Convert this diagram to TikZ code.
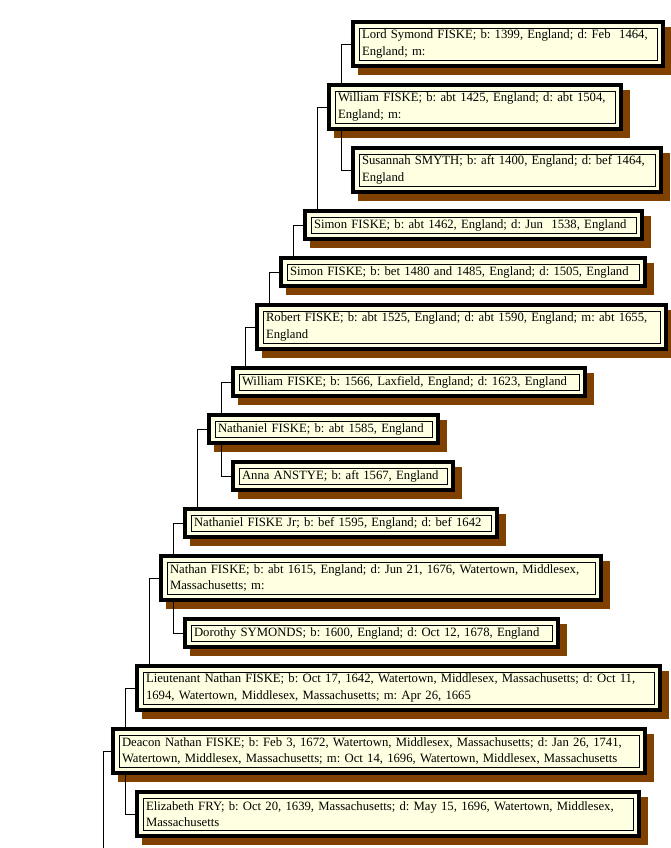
\documentclass[tikz,border=0pt]{standalone}
\usepackage{fontspec}
\setmainfont{Liberation Serif}
\frenchspacing
\usetikzlibrary{positioning,shadows}
\definecolor{cream}{HTML}{FFFFE1}
\definecolor{bark}{HTML}{804000}

\begin{document}
\begin{tikzpicture}[x=1pt,y=1pt,font=\fontsize{12.7}{16.5}\selectfont]
	\tikzset{PersonStyle/.style={draw, line width=4pt, fill=cream, anchor=north west,
			align=left, inner xsep=9pt, inner ysep=2pt, minimum height=28pt,
			drop shadow={shadow xshift=7pt, shadow yshift=-7pt, fill=bark, draw=bark,
				line width=4pt, opacity=1},
			path picture={\draw[line width=.8pt]
				([shift={(6pt,-6pt)}]path picture bounding box.north west) rectangle
				([shift={(-6pt,6pt)}]path picture bounding box.south east);}},
		TwoLines/.style={minimum height=44pt},
		LinkStyle/.style={line width=.8pt}}
	\useasboundingbox (0,0) rectangle (671,-848);
	\node[PersonStyle, TwoLines, text width=292pt] (lord) at (351,-20)
		{Lord Symond FISKE; b: 1399, England; d: Feb\ \ 1464,\\England; m:};
	\node[PersonStyle, TwoLines, text width=274pt, below right=15pt and -24pt of lord.south west] (william)
		{William FISKE; b: abt 1425, England; d: abt 1504,\\England; m:};
	\node[PersonStyle, TwoLines, text width=290pt, below right=15pt and 24pt of william.south west] (susannah)
		{Susannah SMYTH; b: aft 1400, England; d: bef 1464,\\England};
	\node[PersonStyle, text width=319pt, below right=15pt and -48pt of susannah.south west] (simonA)
		{Simon FISKE; b: abt 1462, England; d: Jun\ \ 1538, England};
	\node[PersonStyle, text width=346pt, below right=15pt and -24pt of simonA.south west] (simonB)
		{Simon FISKE; b: bet 1480 and 1485, England; d: 1505, England};
	\node[PersonStyle, TwoLines, text width=391pt, below right=15pt and -24pt of simonB.south west] (robert)
		{Robert FISKE; b: abt 1525, England; d: abt 1590, England; m: abt 1655,\\England};
	\node[PersonStyle, text width=334pt, below right=15pt and -24pt of robert.south west] (williamB)
		{William FISKE; b: 1566, Laxfield, England; d: 1623, England};
	\node[PersonStyle, text width=211pt, below right=15pt and -24pt of williamB.south west] (nathaniel)
		{Nathaniel FISKE; b: abt 1585, England};
	\node[PersonStyle, text width=202pt, below right=15pt and 24pt of nathaniel.south west] (anna)
		{Anna ANSTYE; b: aft 1567, England};
	\node[PersonStyle, text width=294pt, below right=15pt and -48pt of anna.south west] (nathanielJr)
		{Nathaniel FISKE Jr; b: bef 1595, England; d: bef 1642};
	\node[PersonStyle, TwoLines, text width=422pt, below right=15pt and -24pt of nathanielJr.south west] (nathan)
		{Nathan FISKE; b: abt 1615, England; d: Jun 21, 1676, Watertown, Middlesex,\\Massachusetts; m:};
	\node[PersonStyle, text width=355pt, below right=15pt and 24pt of nathan.south west] (dorothy)
		{Dorothy SYMONDS; b: 1600, England; d: Oct 12, 1678, England};
	\node[PersonStyle, TwoLines, text width=505pt, below right=15pt and -48pt of dorothy.south west] (lieutenant)
		{Lieutenant Nathan FISKE; b: Oct 17, 1642, Watertown, Middlesex, Massachusetts; d: Oct 11,\\1694, Watertown, Middlesex, Massachusetts; m: Apr 26, 1665};
	\node[PersonStyle, TwoLines, text width=514pt, below right=15pt and -24pt of lieutenant.south west] (deacon)
		{Deacon Nathan FISKE; b: Feb 3, 1672, Watertown, Middlesex, Massachusetts; d: Jan 26, 1741,\\Watertown, Middlesex, Massachusetts; m: Oct 14, 1696, Watertown, Middlesex, Massachusetts};
	\node[PersonStyle, TwoLines, text width=484pt, below right=15pt and 24pt of deacon.south west] (elizabeth)
		{Elizabeth FRY; b: Oct 20, 1639, Massachusetts; d: May 15, 1696, Watertown, Middlesex,\\Massachusetts};
	\coordinate (heir) at (103,-848);
	\draw[LinkStyle] (lord.west) -| ([xshift=14pt]william.north west);
	\draw[LinkStyle] (susannah.west) -| ([xshift=14pt]william.south west);
	\draw[LinkStyle] (william.west) -| ([xshift=14pt]simonA.north west);
	\draw[LinkStyle] (simonA.west) -| ([xshift=14pt]simonB.north west);
	\draw[LinkStyle] (simonB.west) -| ([xshift=14pt]robert.north west);
	\draw[LinkStyle] (robert.west) -| ([xshift=14pt]williamB.north west);
	\draw[LinkStyle] (williamB.west) -| ([xshift=14pt]nathaniel.north west);
	\draw[LinkStyle] (anna.west) -| ([xshift=14pt]nathaniel.south west);
	\draw[LinkStyle] (nathaniel.west) -| ([xshift=14pt]nathanielJr.north west);
	\draw[LinkStyle] (nathanielJr.west) -| ([xshift=14pt]nathan.north west);
	\draw[LinkStyle] (dorothy.west) -| ([xshift=14pt]nathan.south west);
	\draw[LinkStyle] (nathan.west) -| ([xshift=14pt]lieutenant.north west);
	\draw[LinkStyle] (lieutenant.west) -| ([xshift=14pt]deacon.north west);
	\draw[LinkStyle] (elizabeth.west) -| ([xshift=14pt]deacon.south west);
	\draw[LinkStyle] (deacon.west) -| (heir);
\end{tikzpicture}
\end{document}
